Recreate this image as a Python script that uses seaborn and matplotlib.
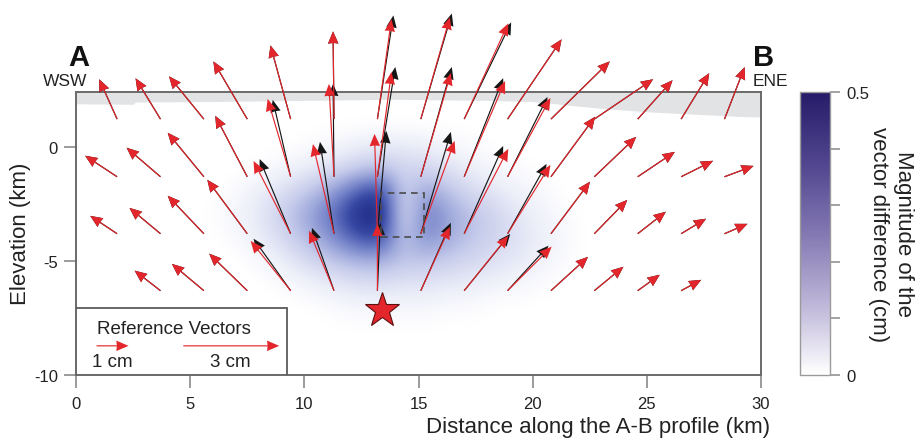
import numpy as np
import matplotlib
matplotlib.use('Agg')
import matplotlib.pyplot as plt
from matplotlib.patches import Rectangle
from matplotlib.cm import ScalarMappable
from matplotlib.colors import Normalize
import seaborn as sns

sns.set_theme(style='white')
plt.rcParams['font.family'] = ['Liberation Sans', 'DejaVu Sans']

# grid of vector tails (km)
col_x = [1.8, 3.7, 5.6, 7.5, 9.4, 11.3, 13.2, 15.1, 17.0, 18.9, 20.8, 22.7, 24.6, 26.5, 28.4]
row_y = [1.23, -1.3, -3.8, -6.3]

# observed (red) displacement, cm
nan = np.nan
red_u = [[-0.56, -0.78, -1.09, -1.06, -0.63, -0.03, 0.44, 0.91, 1.38, 1.69, 1.84, 1.84, 1.09, 0.88, 0.63],
         [-1.0, -1.06, -1.13, -1.0, -0.72, -0.16, 0.44, 0.94, 1.28, 1.34, 1.38, 1.31, 1.16, 1.0, 0.91],
         [-0.84, -0.97, -1.13, -1.25, -1.16, -0.66, -0.09, 1.06, 1.38, 1.34, 1.22, 1.03, 0.88, 0.78, 0.72],
         [nan, -0.81, -1.0, -1.19, -1.25, -0.78, 0.0, 0.91, 1.38, 1.38, 1.16, 0.91, 0.69, 0.63, nan]]
red_v = [[1.25, 1.28, 1.34, 1.81, 2.31, 2.75, 3.13, 3.19, 3.0, 2.5, 1.81, 1.25, 1.22, 1.44, 1.63],
         [0.66, 0.91, 1.38, 1.91, 2.44, 2.91, 3.28, 3.25, 3.0, 2.47, 1.88, 1.25, 0.78, 0.5, 0.34],
         [0.56, 0.81, 1.19, 1.69, 2.28, 2.81, 3.13, 2.91, 2.66, 2.16, 1.63, 1.06, 0.69, 0.47, 0.31],
         [nan, 0.63, 0.84, 1.16, 1.56, 1.88, 2.09, 2.0, 1.72, 1.38, 1.06, 0.75, 0.5, 0.34, nan]]

# second (black) displacement, cm
blk_u = [[-0.56, -0.78, -1.09, -1.06, -0.63, -0.03, 0.5, 0.97, 1.47, 1.69, 1.84, 1.84, 1.09, 0.88, 0.63],
         [-1.0, -1.06, -1.13, -1.0, -0.56, -0.03, 0.56, 0.97, 1.22, 1.25, 1.38, 1.31, 1.16, 1.0, 0.91],
         [-0.84, -0.97, -1.13, -1.25, -0.97, -0.44, 0.28, 0.94, 1.22, 1.22, 1.22, 1.03, 0.88, 0.78, 0.72],
         [nan, -0.81, -1.0, -1.19, -1.16, -0.69, 0.09, 0.94, 1.44, 1.28, 1.16, 0.91, 0.69, 0.63, nan]]
blk_v = [[1.25, 1.28, 1.34, 1.81, 2.31, 2.75, 3.25, 3.31, 3.03, 2.5, 1.81, 1.25, 1.22, 1.44, 1.63],
         [0.66, 0.91, 1.38, 1.91, 2.41, 2.91, 3.44, 3.44, 3.09, 2.5, 1.88, 1.25, 0.78, 0.5, 0.34],
         [0.56, 0.81, 1.19, 1.69, 2.34, 2.88, 3.22, 3.19, 2.75, 2.19, 1.63, 1.06, 0.69, 0.47, 0.31],
         [nan, 0.63, 0.84, 1.16, 1.63, 1.97, 2.13, 2.13, 1.78, 1.41, 1.06, 0.75, 0.5, 0.34, nan]]

# magnitude of vector difference (cm), coarse grid
heat_x = [5.3, 6.3, 7.3, 8.3, 9.3, 10.3, 11.3, 12.3, 13.3, 14.3, 15.3, 16.3, 17.3, 18.3, 19.3, 20.3, 21.3, 22.3, 23.3]
heat_y = [1, 0, -1, -2, -3, -4, -5, -6, -7, -8]
heat = [[0, 0, 0, 0, 0, 0, 0, 0, 0, 0, 0, 0, 0, 0, 0, 0, 0, 0, 0],
        [0, 0, 0, 0, 0, 0.01, 0.02, 0.04, 0.05, 0.05, 0.04, 0.02, 0.01, 0, 0, 0, 0, 0, 0],
        [0, 0, 0, 0.01, 0.03, 0.05, 0.08, 0.12, 0.15, 0.1, 0.1, 0.07, 0.04, 0.02, 0.01, 0, 0, 0, 0],
        [0, 0, 0.02, 0.05, 0.09, 0.14, 0.22, 0.34, 0.42, 0.08, 0.21, 0.14, 0.09, 0.06, 0.03, 0.02, 0, 0, 0],
        [0, 0.01, 0.03, 0.07, 0.13, 0.21, 0.31, 0.46, 0.52, 0.03, 0.29, 0.2, 0.14, 0.1, 0.06, 0.03, 0.01, 0, 0],
        [0, 0, 0.02, 0.05, 0.1, 0.16, 0.24, 0.34, 0.38, 0.12, 0.24, 0.18, 0.13, 0.1, 0.07, 0.04, 0.02, 0, 0],
        [0, 0, 0, 0.02, 0.05, 0.09, 0.13, 0.16, 0.17, 0.13, 0.13, 0.11, 0.09, 0.07, 0.05, 0.03, 0.01, 0, 0],
        [0, 0, 0, 0, 0.01, 0.03, 0.05, 0.07, 0.07, 0.06, 0.06, 0.05, 0.04, 0.03, 0.02, 0.01, 0, 0, 0],
        [0, 0, 0, 0, 0, 0, 0.01, 0.02, 0.02, 0.02, 0.02, 0.01, 0.01, 0, 0, 0, 0, 0, 0],
        [0, 0, 0, 0, 0, 0, 0, 0, 0, 0, 0, 0, 0, 0, 0, 0, 0, 0, 0]]

# topography surface (km)
topo_x = [0, 2.5, 2.6, 6, 10, 14, 18, 20, 21, 23, 25, 27, 29, 30]
topo_z = [1.9, 1.88, 1.98, 2.0, 2.05, 2.1, 2.05, 2.0, 1.9, 1.7, 1.55, 1.45, 1.35, 1.32]

source_x, source_y = 13.4, -7.15
box_x, box_y, box_w, box_h = 13.35, -3.95, 1.9, 1.95
ref_cm = [1, 3]
ref_x = [0.9, 4.7]
ref_y = [-8.72, -8.72]
ref_labels = ['1 cm', '3 cm']
ref_label_x = [1.6, 6.75]

km_per_cm = 1.4
ymax = 2.42

fig = plt.figure(figsize=(9.2, 4.39), dpi=100)
ax = fig.add_axes([0.0826, 0.1435, 0.7446, 0.6447])
ax.set_xlim(0, 30)
ax.set_ylim(-10, ymax)

heat_cmap = sns.blend_palette(['#ffffff', '#c3c9ea', '#7a88cc', '#3647a3', '#19237c'], as_cmap=True)
bar_cmap = sns.blend_palette(['#ffffff', '#bdb6d8', '#8378b2', '#50458e', '#261b68'], as_cmap=True)

dx = heat_x[1] - heat_x[0]
dy = heat_y[0] - heat_y[1]
ax.imshow(np.array(heat), cmap=heat_cmap, vmin=0, vmax=0.5, interpolation='bicubic',
          extent=[heat_x[0] - dx / 2, heat_x[-1] + dx / 2, heat_y[-1] - dy / 2, heat_y[0] + dy / 2],
          aspect='auto', zorder=0)

ax.fill_between(topo_x, topo_z, ymax, color='#e2e3e5', lw=0, zorder=1)

X, Y = np.meshgrid(col_x, row_y)
ru, rv = np.array(red_u), np.array(red_v)
bu, bv = np.array(blk_u), np.array(blk_v)
m = ~np.isnan(ru)

qkw = dict(angles='xy', scale_units='xy', scale=1 / km_per_cm, width=0.0017,
           headwidth=9, headlength=10.5, headaxislength=10)
qb = ax.quiver(X[m], Y[m], bu[m], bv[m], color='#161616', zorder=3, **qkw)
qr = ax.quiver(X[m], Y[m], ru[m], rv[m], color='#e3262b', zorder=4, **qkw)
qb.set_clip_on(False)
qr.set_clip_on(False)

ax.add_patch(Rectangle((box_x, box_y), box_w, box_h, fill=False, ls=(0, (4, 3)),
                       ec='#4a4a4a', lw=1.2, zorder=5))
ax.plot(source_x, source_y, marker='*', ms=26, mfc='#e3262b', mec='#5a0f10', mew=0.8,
        zorder=6, clip_on=False)

# reference vectors box
ax.add_patch(Rectangle((0, -10), 9.25, 2.94, fc='white', ec='#5a5a5a', lw=1.3, zorder=6))
ax.text(0.9, -7.95, 'Reference Vectors', fontsize=13.5, color='#222222', va='center', zorder=7)
qref = ax.quiver(ref_x, ref_y, ref_cm, [0, 0], color='#e3262b', zorder=7, **qkw)
for lx, lab in zip(ref_label_x, ref_labels):
    ax.text(lx, -9.4, lab, fontsize=13.5, color='#222222', ha='center', va='center', zorder=7)

ax.text(0.13, 3.97, 'A', fontsize=21, fontweight='bold', color='#111111', ha='center', va='center')
ax.text(-0.48, 2.94, 'WSW', fontsize=12.5, color='#222222', ha='center', va='center')
ax.text(30.1, 3.97, 'B', fontsize=21, fontweight='bold', color='#111111', ha='center', va='center')
ax.text(30.4, 2.94, 'ENE', fontsize=12.5, color='#222222', ha='center', va='center')

ax.set_xticks([0, 5, 10, 15, 20, 25, 30])
ax.set_yticks([-10, -5, 0])
ax.set_yticklabels(['-10', '-5', '0'])
ax.tick_params(axis='both', direction='out', length=9, width=1.2, color='#8a8a8a',
               labelsize=12, labelcolor='#222222', pad=4)
ax.tick_params(axis='x', pad=6)
ax.tick_params(left=True, bottom=True)
for s in ax.spines.values():
    s.set_color('#6a6a6a')
    s.set_linewidth(1.4)

ax.set_xlabel('Distance along the A-B profile (km)', fontsize=16, color='#222222', loc='right')
ax.xaxis.set_label_coords(1.013, -0.145)
ax.set_ylabel('Elevation (km)', fontsize=16, color='#222222')
ax.yaxis.set_label_coords(-0.066, 0.502)

cax = fig.add_axes([0.8696, 0.1435, 0.0326, 0.6447])
sm = ScalarMappable(norm=Normalize(0, 0.5), cmap=bar_cmap)
cb = fig.colorbar(sm, cax=cax, ticks=[0, 0.1, 0.2, 0.3, 0.4, 0.5])
cb.ax.set_yticklabels(['0', '', '', '', '', '0.5'])
cb.outline.set_edgecolor('#9a9a9a')
cb.outline.set_linewidth(1.0)
cb.ax.tick_params(direction='out', length=7, width=1.1, color='#8a8a8a',
                  labelsize=12, labelcolor='#222222', pad=5)
fig.text(0.9685, 0.466, 'Magnitude of the\nvector difference (cm)', rotation=270,
         fontsize=16, color='#222222', ha='center', va='center', ma='center', linespacing=1.2)

fig.savefig('out.png', dpi=100)
